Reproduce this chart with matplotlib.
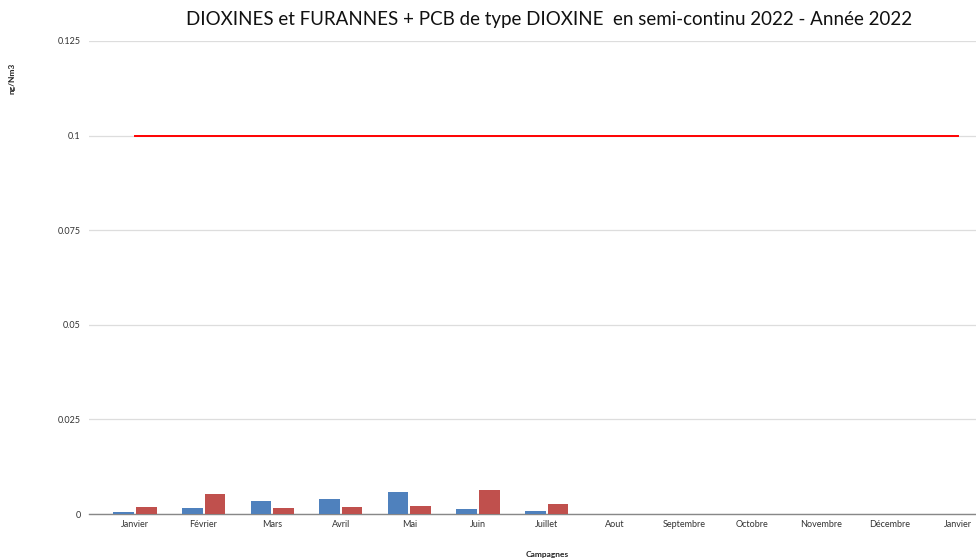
import matplotlib
import matplotlib.pyplot as plt
import numpy as np

matplotlib.use('Agg')
plt.rcParams['font.family'] = ['Lato', 'DejaVu Sans']

# data
mois = ["Janvier", "Février", "Mars", "Avril", "Mai", "Juin", "Juillet",
        "Aout", "Septembre", "Octobre", "Novembre", "Décembre", "Janvier"]
serie_bleue = [0.00045, 0.0015, 0.0034, 0.0040, 0.0059, 0.0013, 0.0007]
serie_rouge = [0.0018, 0.0052, 0.0015, 0.0018, 0.0021, 0.0063, 0.0026]
valeur_limite = [0.1] * 13
yticks = [0, 0.025, 0.05, 0.075, 0.1, 0.125]
ytick_labels = ["0", "0.025", "0.05", "0.075", "0.1", "0.125"]

fig = plt.figure(figsize=(9.76, 5.58), dpi=100)
ax = fig.add_axes([89 / 976, 44 / 558, 1 - 89 / 976, 473 / 558])

x = np.arange(len(mois))
w = 0.3
xb = np.arange(len(serie_bleue))
ax.bar(xb - w / 2 - 0.015, serie_bleue, width=w, color="#4f81bd", zorder=3)
ax.bar(xb + w / 2 + 0.015, serie_rouge, width=w, color="#c0504d", zorder=3)
ax.plot(x, valeur_limite, color="#ff0000", lw=1.4, zorder=4)

ax.set_xlim(-0.67, 12.26)
ax.set_ylim(0, 0.125)
ax.set_xticks(x)
ax.set_xticklabels(mois, fontsize=6.5, color="#333333")
ax.set_yticks(yticks)
ax.set_yticklabels(ytick_labels, fontsize=6.5, color="#333333")
ax.tick_params(axis='both', length=0, pad=6)
ax.tick_params(axis='x', pad=4)

for s in ['top', 'right', 'left']:
    ax.spines[s].set_visible(False)
ax.spines['bottom'].set_color("#888888")
ax.spines['bottom'].set_linewidth(1.0)
ax.grid(axis='y', color="#dddddd", lw=0.9, zorder=0)
ax.set_axisbelow(True)

fig.text(549 / 976, 1 - 20 / 558, "DIOXINES et FURANNES + PCB de type DIOXINE  en semi-continu 2022 - Année 2022",
         ha='center', va='center', fontsize=13.5, color="#111111")
fig.text(12 / 976, 1 - 78 / 558, "ng/Nm3", rotation=90, ha='center', va='center',
         fontsize=6, fontweight='bold', color="#222222")
fig.text(547 / 976, 1 - 554 / 558, "Campagnes", ha='center', va='center',
         fontsize=6, fontweight='bold', color="#222222")

fig.savefig("out.png", dpi=100)
